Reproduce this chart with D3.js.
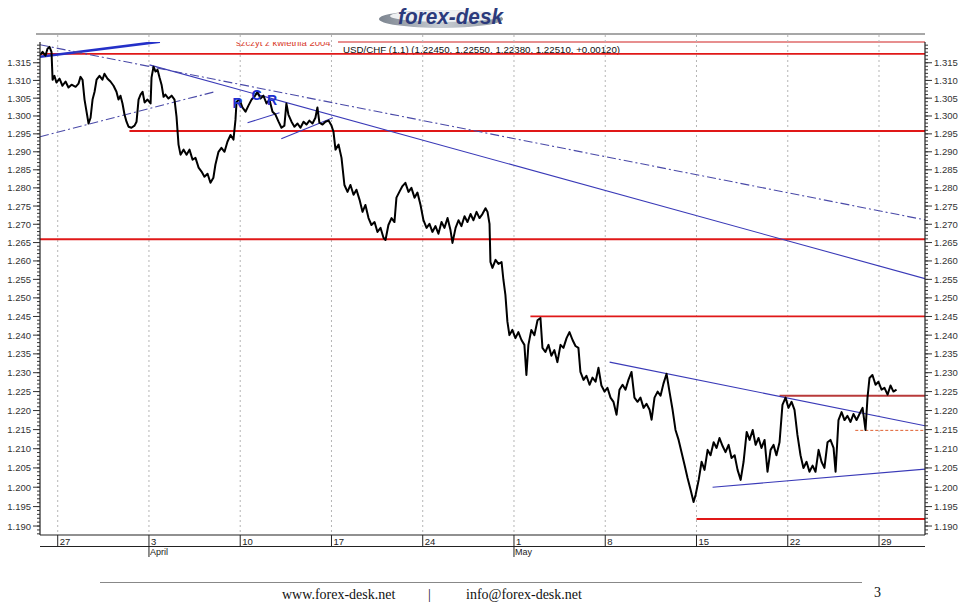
<!DOCTYPE html>
<html><head><meta charset="utf-8">
<script src="https://cdn.jsdelivr.net/npm/d3@7"></script>
<style>
html,body{margin:0;padding:0;background:#fff;}
svg{display:block;}
</style></head>
<body>
<svg id="chart" width="960" height="602"></svg>
<script>
// ---------------- DATA ----------------
// trading-day index (0 = Mon 27 March 2006) and USD/CHF price
const priceT = [-0.97,-0.83,-0.67,-0.56,-0.45,-0.34,-0.28,-0.18,-0.07,0.10,0.26,0.43,0.59,0.76,0.98,1.14,1.25,1.36,1.47,1.58,1.69,1.80,1.91,2.02,2.13,2.29,2.45,2.56,2.73,2.89,3.06,3.22,3.33,3.44,3.55,3.66,3.77,3.88,4.04,4.21,4.32,4.43,4.54,4.65,4.76,4.92,5.09,5.14,5.25,5.36,5.47,5.58,5.69,5.80,5.90,6.07,6.24,6.40,6.51,6.62,6.73,6.90,7.06,7.22,7.39,7.55,7.72,7.88,8.04,8.21,8.37,8.53,8.64,8.81,8.97,9.14,9.30,9.47,9.63,9.74,9.80,9.96,10.12,10.29,10.45,10.62,10.78,10.95,11.11,11.27,11.44,11.60,11.77,11.93,12.10,12.26,12.42,12.53,12.64,12.81,12.97,13.14,13.30,13.47,13.63,13.79,13.96,14.12,14.23,14.34,14.51,14.67,14.84,15.00,15.11,15.22,15.39,15.55,15.71,15.88,16.04,16.21,16.37,16.54,16.70,16.86,17.03,17.19,17.36,17.52,17.69,17.85,17.96,18.12,18.29,18.45,18.56,18.72,18.89,19.05,19.22,19.38,19.55,19.71,19.88,20.04,20.21,20.37,20.53,20.70,20.86,21.03,21.19,21.36,21.52,21.63,21.80,21.96,22.12,22.29,22.45,22.62,22.78,22.95,23.11,23.27,23.44,23.55,23.66,23.71,23.82,23.99,24.15,24.32,24.42,24.53,24.64,24.75,24.91,25.08,25.24,25.41,25.57,25.68,25.79,25.95,26.12,26.29,26.45,26.56,26.72,26.89,27.05,27.21,27.38,27.55,27.71,27.88,28.04,28.21,28.37,28.53,28.64,28.81,28.97,29.14,29.30,29.47,29.63,29.79,29.96,30.12,30.29,30.45,30.62,30.78,30.95,31.11,31.27,31.44,31.60,31.77,31.93,32.10,32.26,32.43,32.54,32.70,32.87,33.03,33.19,33.36,33.52,33.69,33.85,34.02,34.18,34.35,34.51,34.68,34.84,34.95,35.12,35.28,35.44,35.61,35.77,35.94,36.10,36.26,36.43,36.59,36.76,36.92,37.09,37.25,37.42,37.58,37.75,37.91,38.08,38.24,38.40,38.56,38.73,38.89,39.06,39.22,39.38,39.55,39.71,39.88,40.04,40.21,40.37,40.53,40.70,40.86,41.03,41.19,41.36,41.52,41.69,41.85,42.01,42.18,42.34,42.51,42.62,42.78,42.95,43.11,43.27,43.44,43.60,43.77,43.93,44.10,44.26,44.37,44.48,44.64,44.81,44.97,45.14,45.30,45.47,45.63,45.79,45.96];
const priceV = [1.3172,1.3181,1.3170,1.3190,1.3195,1.3181,1.3102,1.3113,1.3094,1.3105,1.3085,1.3097,1.3080,1.3088,1.3082,1.3091,1.3110,1.3102,1.3046,1.3012,1.2979,1.2995,1.3046,1.3068,1.3102,1.3113,1.3102,1.3119,1.3105,1.3097,1.3085,1.3068,1.3046,1.3057,1.3035,1.3004,1.2984,1.2970,1.2967,1.2973,1.2984,1.3046,1.3060,1.3068,1.3038,1.3046,1.3035,1.3108,1.3139,1.3125,1.3130,1.3108,1.3088,1.3054,1.3060,1.3049,1.3057,1.3046,1.2998,1.2920,1.2892,1.2906,1.2892,1.2906,1.2878,1.2883,1.2856,1.2845,1.2831,1.2839,1.2814,1.2828,1.2864,1.2900,1.2911,1.2900,1.2928,1.2947,1.2934,1.2989,1.3040,1.3046,1.3024,1.3012,1.3029,1.3046,1.3054,1.3068,1.3049,1.3057,1.3035,1.3046,1.3012,1.3004,1.2984,1.2967,1.2973,1.3035,1.3004,1.2984,1.2970,1.2979,1.2967,1.2984,1.2976,1.2987,1.2979,1.2995,1.3024,1.2981,1.2976,1.2984,1.2987,1.2973,1.2956,1.2906,1.2920,1.2883,1.2808,1.2789,1.2808,1.2781,1.2795,1.2767,1.2734,1.2753,1.2717,1.2698,1.2706,1.2679,1.2690,1.2663,1.2657,1.2698,1.2717,1.2706,1.2773,1.2789,1.2805,1.2814,1.2789,1.2800,1.2773,1.2787,1.2753,1.2711,1.2690,1.2701,1.2679,1.2695,1.2674,1.2706,1.2690,1.2717,1.2684,1.2649,1.2690,1.2711,1.2695,1.2722,1.2706,1.2728,1.2711,1.2734,1.2717,1.2728,1.2744,1.2734,1.2701,1.2597,1.2581,1.2603,1.2592,1.2597,1.2549,1.2508,1.2436,1.2400,1.2414,1.2392,1.2408,1.2387,1.2374,1.2294,1.2374,1.2414,1.2400,1.2440,1.2446,1.2366,1.2355,1.2374,1.2345,1.2360,1.2328,1.2374,1.2366,1.2392,1.2408,1.2387,1.2371,1.2366,1.2302,1.2281,1.2292,1.2268,1.2287,1.2276,1.2313,1.2266,1.2250,1.2260,1.2234,1.2223,1.2189,1.2255,1.2268,1.2255,1.2281,1.2302,1.2234,1.2223,1.2234,1.2207,1.2218,1.2202,1.2176,1.2234,1.2250,1.2239,1.2271,1.2297,1.2250,1.2202,1.2149,1.2123,1.2091,1.2057,1.2024,1.1993,1.1962,1.1980,1.2019,1.2066,1.2045,1.2097,1.2083,1.2117,1.2102,1.2128,1.2107,1.2091,1.2110,1.2076,1.2083,1.2045,1.2019,1.2066,1.2144,1.2123,1.2149,1.2110,1.2128,1.2102,1.2123,1.2040,1.2097,1.2110,1.2083,1.2117,1.2215,1.2234,1.2207,1.2223,1.2202,1.2136,1.2083,1.2050,1.2066,1.2040,1.2056,1.2040,1.2097,1.2066,1.2050,1.2117,1.2123,1.2102,1.2040,1.2175,1.2196,1.2175,1.2186,1.2170,1.2191,1.2175,1.2191,1.2207,1.2149,1.2234,1.2286,1.2294,1.2268,1.2276,1.2255,1.2260,1.2242,1.2266,1.2250,1.2255];

// horizontal support / resistance levels: price, starting day
const levelPrice = [1.3175, 1.2958, 1.2659, 1.2450, 1.2239, 1.1918];
const levelStart = [-0.97, 3.93, -0.97, 25.9, 39.55, 35.0];
const dashedLevelPrice = [1.2148];
const dashedLevelStart = [43.7];

// trend lines: [t1, p1, t2, p2]
const thickTrend = [[-0.97, 1.3167, 5.6, 1.3210]];
const solidTrends = [
  [5.03, 1.3144, 47.52, 1.2552],
  [10.4, 1.2981, 12.15, 1.3009],
  [12.25, 1.2936, 15.08, 1.2995],
  [30.24, 1.2328, 47.52, 1.2160],
  [35.88, 1.2000, 47.52, 1.2047]
];
const dashDotTrends = [
  [-0.97, 1.3201, 47.52, 1.2712],
  [-0.97, 1.2942, 8.6, 1.3068]
];

// pattern labels
const patternLabels = ["R", "C", "R"];
const patternT = [9.85, 10.9, 11.75];
const patternV = [1.3022, 1.3045, 1.3031];

// axis labels
const yTickLabels = ["1.190","1.195","1.200","1.205","1.210","1.215","1.220","1.225","1.230","1.235","1.240","1.245","1.250","1.255","1.260","1.265","1.270","1.275","1.280","1.285","1.290","1.295","1.300","1.305","1.310","1.315"];
const xTickLabels = ["27","3","10","17","24","1","8","15","22","29"];
const xTickDays = [0,5,10,15,20,25,30,35,40,45];
const monthLabels = ["April","May"];
const monthDays = [5,25];

const titleText = "USD/CHF (1.1) (1.22450, 1.22550, 1.22380, 1.22510, +0.00120)";
const subTitleText = "szczyt z kwietnia 2004";

// ---------------- DRAW ----------------
const svg = d3.select("#chart");
const L = 40, R = 925, T = 42, B = 535;
const x = d3.scaleLinear().domain([-0.97, 47.52]).range([L, R]);
const y = d3.scaleLog().domain([1.1877, 1.3209]).range([B, T]);

// logo
const defs = svg.append("defs");
const g1 = defs.append("linearGradient").attr("id","sw").attr("x1","0").attr("x2","1").attr("y1","0").attr("y2","0");
g1.append("stop").attr("offset","0").attr("stop-color","#7d8590");
g1.append("stop").attr("offset","0.5").attr("stop-color","#c9ced4");
g1.append("stop").attr("offset","1").attr("stop-color","#8d949c");
defs.append("clipPath").attr("id","plotclip").append("rect").attr("x",L).attr("y",T).attr("width",R-L).attr("height",B-T);
defs.append("clipPath").attr("id","subclip").append("rect").attr("x",200).attr("y",42).attr("width",140).attr("height",10);

svg.append("ellipse").attr("cx",441).attr("cy",19).attr("rx",62).attr("ry",9).attr("fill","url(#sw)");
svg.append("ellipse").attr("cx",446).attr("cy",16).attr("rx",56).attr("ry",6).attr("fill","#eef0f2");
svg.append("text").attr("x",398).attr("y",24).attr("textLength",105).attr("lengthAdjust","spacingAndGlyphs")
  .attr("font-family","'Liberation Sans Narrow','Arial Narrow',Arial,sans-serif")
  .attr("font-style","italic").attr("font-weight","bold").attr("font-size",22)
  .attr("fill","#2b3a7c").text("forex-desk");

// top frame lines
svg.append("line").attr("x1",36).attr("x2",R).attr("y1",34).attr("y2",34).attr("stroke","#8a8a8a").attr("stroke-width",1.5);
svg.append("line").attr("x1",338).attr("x2",R).attr("y1",T).attr("y2",T).attr("stroke","#d02020").attr("stroke-width",1.2);

// vertical dotted grid lines
svg.append("g").selectAll("line").data(xTickDays).join("line")
  .attr("x1",d=>x(d)).attr("x2",d=>x(d)).attr("y1",35).attr("y2",B)
  .attr("stroke","#b5b5b5").attr("stroke-width",1).attr("stroke-dasharray","2,3");

// titles
svg.append("text").attr("x",343).attr("y",53).attr("font-family","Arial,'Liberation Sans',sans-serif")
  .attr("font-size",9.7).attr("fill","#111").text(titleText);
svg.append("text").attr("x",236).attr("y",46).attr("clip-path","url(#subclip)")
  .attr("font-family","Arial,'Liberation Sans',sans-serif").attr("font-size",9.5)
  .attr("fill","#d83a2a").text(subTitleText);

const plot = svg.append("g").attr("clip-path","url(#plotclip)");

// red levels
plot.selectAll("line.lvl").data(levelPrice).join("line").attr("class","lvl")
  .attr("x1",(d,i)=>x(levelStart[i])).attr("x2",R).attr("y1",d=>y(d)).attr("y2",d=>y(d))
  .attr("stroke",(d,i)=> i===4 ? "#b83a3a" : "#e01818").attr("stroke-width",1.8);
plot.selectAll("line.dlvl").data(dashedLevelPrice).join("line").attr("class","dlvl")
  .attr("x1",(d,i)=>x(dashedLevelStart[i])).attr("x2",R).attr("y1",d=>y(d)).attr("y2",d=>y(d))
  .attr("stroke","#e06030").attr("stroke-width",1).attr("stroke-dasharray","3,2");

// trend lines
plot.selectAll("line.tt").data(thickTrend).join("line").attr("class","tt")
  .attr("x1",d=>x(d[0])).attr("y1",d=>y(d[1])).attr("x2",d=>x(d[2])).attr("y2",d=>y(d[3]))
  .attr("stroke","#2430c8").attr("stroke-width",2.6);
plot.selectAll("line.st").data(solidTrends).join("line").attr("class","st")
  .attr("x1",d=>x(d[0])).attr("y1",d=>y(d[1])).attr("x2",d=>x(d[2])).attr("y2",d=>y(d[3]))
  .attr("stroke","#3a3ab8").attr("stroke-width",1.1);
plot.selectAll("line.dt").data(dashDotTrends).join("line").attr("class","dt")
  .attr("x1",d=>x(d[0])).attr("y1",d=>y(d[1])).attr("x2",d=>x(d[2])).attr("y2",d=>y(d[3]))
  .attr("stroke","#4a4aa8").attr("stroke-width",1.1).attr("stroke-dasharray","9,3,2,3");

// price
const line = d3.line().x(d=>x(d[0])).y(d=>y(d[1]));
plot.append("path").datum(priceT.map((t,i)=>[t, priceV[i]]))
  .attr("d", line).attr("fill","none").attr("stroke","#000").attr("stroke-width",2).attr("stroke-linejoin","round");

// pattern labels
svg.append("g").selectAll("text").data(patternLabels).join("text")
  .attr("x",(d,i)=>x(patternT[i])).attr("y",(d,i)=>y(patternV[i])).attr("text-anchor","middle")
  .attr("font-family","Arial,'Liberation Sans',sans-serif").attr("font-weight","bold").attr("font-size",14)
  .attr("fill","#2030d0").text(d=>d);

// y axes
const majorTicks = yTickLabels.map(Number);
const minorTicks = d3.range(1188, 1321).map(v=>v/1000).filter(v=>y(v)>=T && y(v)<=B);
function yAxis(side){
  const g = svg.append("g");
  const dir = side === "left" ? -1 : 1;
  const ax = side === "left" ? L : R;
  g.append("line").attr("x1",ax).attr("x2",ax).attr("y1",T).attr("y2",B).attr("stroke","#222").attr("stroke-width",1.2);
  g.selectAll("line.mn").data(minorTicks).join("line").attr("class","mn")
    .attr("x1",ax).attr("x2",ax+dir*3).attr("y1",d=>y(d)).attr("y2",d=>y(d)).attr("stroke","#333");
  g.selectAll("line.mj").data(majorTicks).join("line").attr("class","mj")
    .attr("x1",ax).attr("x2",ax+dir*7).attr("y1",d=>y(d)).attr("y2",d=>y(d)).attr("stroke","#333");
  g.selectAll("text").data(yTickLabels).join("text")
    .attr("x", side === "left" ? 31 : 934).attr("y",(d,i)=>y(majorTicks[i])+3.5)
    .attr("text-anchor", side === "left" ? "end" : "start")
    .attr("font-family","Arial,'Liberation Sans',sans-serif").attr("font-size",9.5).attr("fill","#333").text(d=>d);
}
yAxis("left"); yAxis("right");

// x axis rows
const xa = svg.append("g");
xa.append("line").attr("x1",L).attr("x2",R).attr("y1",B).attr("y2",B).attr("stroke","#222").attr("stroke-width",1.2);
xa.append("line").attr("x1",L).attr("x2",R).attr("y1",546.5).attr("y2",546.5).attr("stroke","#222").attr("stroke-width",1);
xa.selectAll("line.xt").data(xTickDays).join("line").attr("class","xt")
  .attr("x1",d=>x(d)).attr("x2",d=>x(d)).attr("y1",B).attr("y2",546).attr("stroke","#222");
xa.selectAll("text.xl").data(xTickLabels).join("text").attr("class","xl")
  .attr("x",(d,i)=>x(xTickDays[i])+2).attr("y",544.5)
  .attr("font-family","Arial,'Liberation Sans',sans-serif").attr("font-size",9.5).attr("fill","#222").text(d=>d);
xa.selectAll("line.mt").data(monthDays).join("line").attr("class","mt")
  .attr("x1",d=>x(d)).attr("x2",d=>x(d)).attr("y1",546).attr("y2",557).attr("stroke","#222");
xa.selectAll("text.ml").data(monthLabels).join("text").attr("class","ml")
  .attr("x",(d,i)=>x(monthDays[i])+1).attr("y",555)
  .attr("font-family","Arial,'Liberation Sans',sans-serif").attr("font-size",9).attr("fill","#222").text(d=>d);

// footer
svg.append("line").attr("x1",100).attr("x2",862).attr("y1",582.5).attr("y2",582.5).attr("stroke","#888").attr("stroke-width",1);
const ff = "'Liberation Serif','Times New Roman',serif";
svg.append("text").attr("x",282).attr("y",599).attr("font-family",ff).attr("font-size",14).attr("fill","#111").text("www.forex-desk.net");
svg.append("text").attr("x",428).attr("y",599).attr("font-family",ff).attr("font-size",14).attr("fill","#111").text("|");
svg.append("text").attr("x",466).attr("y",599).attr("font-family",ff).attr("font-size",14).attr("fill","#111").text("info@forex-desk.net");
svg.append("text").attr("x",874).attr("y",597).attr("font-family",ff).attr("font-size",14).attr("fill","#111").text("3");
</script>
</body></html>
